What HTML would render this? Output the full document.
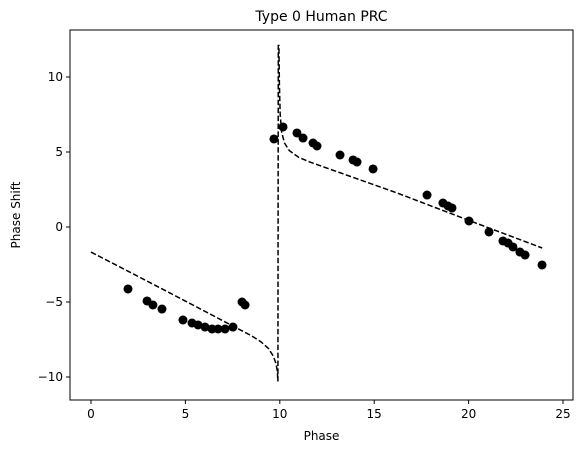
<!DOCTYPE html>
<html><head><meta charset="utf-8"><style>
body{margin:0;background:#fff;font-family:"Liberation Sans","DejaVu Sans",sans-serif}
svg text{font-family:"DejaVu Sans","Liberation Sans",sans-serif;font-size:12px;fill:#000}
</style></head><body>
<svg id="c" width="581" height="453"></svg>
<script>
const ptX=[1.96,2.97,3.28,3.76,4.87,5.35,5.67,6.04,6.41,6.73,7.10,7.52,8.0,8.16,9.69,10.17,10.91,11.23,11.76,11.97,13.19,13.88,14.09,14.94,17.8,18.64,18.91,19.12,20.02,21.08,21.82,22.09,22.35,22.72,22.99,23.89];
const ptY=[-4.13,-4.93,-5.2,-5.47,-6.2,-6.4,-6.53,-6.67,-6.8,-6.8,-6.8,-6.67,-5.0,-5.2,5.87,6.67,6.27,5.93,5.6,5.4,4.8,4.47,4.33,3.87,2.13,1.6,1.4,1.27,0.4,-0.33,-0.93,-1.07,-1.33,-1.67,-1.87,-2.53];
const curveX=[0,2,4,6,7.7,8.5,9.0,9.4,9.65,9.8,9.87,9.9,9.92,9.95,9.98,10.02,10.1,10.25,10.5,11.0,11.6,16.2,20,23.9];
const curveY=[-1.67,-2.97,-4.28,-5.6,-6.73,-7.25,-7.65,-8.1,-8.6,-9.1,-9.6,-10.3,12.1,12.1,9.5,7.5,6.3,5.6,5.1,4.65,4.33,2.27,0.45,-1.4];
const xTicks=[0,5,10,15,20,25];
const yTicks=[-10,-5,0,5,10];
const L=70,R=573,T=30,B=400;
const sx=v=>91+v*18.88, sy=v=>227-v*15;
const svg=document.getElementById('c');const NS='http://www.w3.org/2000/svg';
function mk(t,a,p){const e=document.createElementNS(NS,t);for(const k in a)e.setAttribute(k,a[k]);(p||svg).appendChild(e);return e;}
let e;
e=mk('text',{x:(L+R)/2,y:21,'text-anchor':'middle'});e.textContent='Type 0 Human PRC';e.style.fontSize='14px';


xTicks.forEach(v=>{mk('line',{x1:sx(v),x2:sx(v),y1:B,y2:B+4,stroke:'#000'});
 e=mk('text',{x:sx(v),y:B+18,'text-anchor':'middle'});e.textContent=String(v).replace('-','\u2212');
 
 });
yTicks.forEach(v=>{mk('line',{x1:L-4,x2:L,y1:sy(v),y2:sy(v),stroke:'#000'});
 e=mk('text',{x:L-7,y:sy(v)+4,'text-anchor':'end'});e.textContent=String(v).replace('-','\u2212');
 
 });
e=mk('text',{x:(L+R)/2,y:440,'text-anchor':'middle'});e.textContent='Phase';


e=mk('text',{x:20,y:(T+B)/2,'text-anchor':'middle',transform:`rotate(-90 20 ${(T+B)/2})`});e.textContent='Phase Shift';


const d=curveX.map((x,i)=>(i?'L':'M')+sx(x).toFixed(1)+' '+sy(curveY[i]).toFixed(1)).join(' ');
e=mk('path',{d:d,fill:'none',stroke:'#000','stroke-width':1.5,'stroke-dasharray':'5.5,2.4'});


ptX.forEach((x,i)=>{e=mk('circle',{cx:sx(x),cy:sy(ptY[i]),r:4.5,fill:'#000'});
 
 });
e=mk('rect',{x:L,y:T,width:R-L,height:B-T,fill:'none',stroke:'#000','stroke-width':1});


</script>
</body></html>
